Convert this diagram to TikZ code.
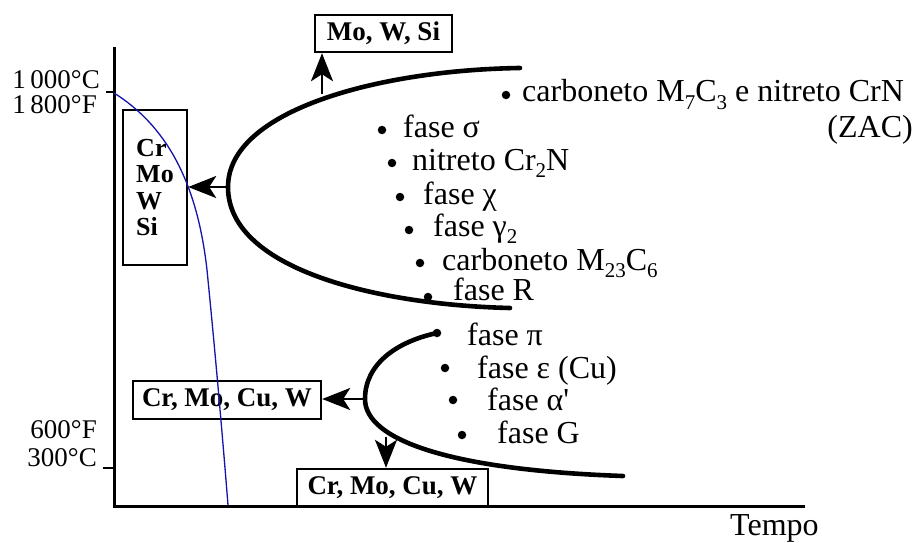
\documentclass[tikz,border=0pt]{standalone}
\usepackage{fontspec}
\setmainfont{Liberation Serif}
\usetikzlibrary{arrows.meta}
\definecolor{curveblue}{RGB}{20,20,170}
\newcommand\sbs[1]{\raisebox{-0.22em}{\fontsize{21}{21}\selectfont #1}}
\begin{document}
\begin{tikzpicture}[x=1pt,y=-1pt,
  lbl/.style={font=\fontsize{32}{36}\selectfont, inner sep=0pt, anchor=base west},
  axl/.style={font=\fontsize{27}{30}\selectfont, inner sep=0pt, anchor=east},
  boxn/.style={draw, line width=2.4pt, font=\bfseries\fontsize{27}{30}\selectfont, inner sep=0pt},
  dotn/.style={circle, fill, inner sep=0pt, minimum size=8.5pt},
  curve/.style={line width=4.6pt, line cap=round},
  arr/.style={line width=2.6pt, -{Stealth[length=28pt,width=22pt,inset=7pt]}},
]
\useasboundingbox (0,0) rectangle (924,543);

% axes
\draw[line width=3pt] (114,47) -- (114,506) -- (805,506);
\draw[line width=2pt] (106,92) -- (114,92);
\draw[line width=2pt] (103,468) -- (114,468);
\node[axl] (c1000) at (100,80) {1\,000°C};
\node[axl] (f1800) at (97,105) {1\,800°F};
\node[axl] (f600) at (97,430) {600°F};
\node[axl] (c300) at (97,458) {300°C};
\node[lbl] (tempo) at (730,535) {Tempo};

% boxes
\node[boxn, minimum width=64pt, minimum height=155pt, align=left,
      font=\bfseries\fontsize{26}{26.5}\selectfont] (crbox) at (155,187.5) {Cr\\Mo\\W\\Si};
\node[boxn, minimum width=137pt, minimum height=37pt] (mws) at (383.5,33.5) {Mo, W, Si};
\node[boxn, minimum width=188pt, minimum height=38pt] (cb1) at (227,400) {Cr, Mo, Cu, W};
\node[boxn, minimum width=191pt, minimum height=37pt] (cb2) at (392.5,487.5) {Cr, Mo, Cu, W};

% C-curves
\draw[curve] (520,68) .. controls (380,70) and (228,110) .. (228,187)
             .. controls (228,270) and (380,305) .. (510,308);
\draw[curve] (437,333) .. controls (395,342) and (365,365) .. (365,399)
             .. controls (365,440) and (450,470) .. (623,476);

% arrows
\coordinate (v1) at (228,187);
\coordinate (t1) at (322,94);
\coordinate (v2) at (365,399);
\coordinate (b2) at (386,437);
\draw[arr] (v1) -- (v1 -| crbox.east);
\draw[arr] (t1) -- (t1 |- mws.south);
\draw[arr] (v2) -- (v2 -| cb1.east);
\draw[arr] (b2) -- (b2 |- cb2.north);

% dots
\node[dotn] (d0) at (506,95) {};
\node[dotn] (d1) at (382,130) {};
\node[dotn] (d2) at (392,163) {};
\node[dotn] (d3) at (400,197) {};
\node[dotn] (d4) at (409,230) {};
\node[dotn] (d5) at (420,263) {};
\node[dotn] (d6) at (428,297) {};
\node[dotn] (d7) at (437,333) {};
\node[dotn] (d8) at (445,368) {};
\node[dotn] (d9) at (453,400) {};
\node[dotn] (d10) at (462,435) {};

% labels
\node[lbl] (l0) at (522,102) {carboneto M\sbs{7}C\sbs{3} e nitreto CrN};
\node[lbl, anchor=base east] (l0b) at (913,137) {(ZAC)};
\node[lbl] (l1) at (403,137) {fase σ};
\node[lbl] (l2) at (412,170) {nitreto Cr\sbs{2}N};
\node[lbl] (l3) at (423,204) {fase χ};
\node[lbl] (l4) at (433,236) {fase γ\sbs{2}};
\node[lbl] (l5) at (442,270) {carboneto M\sbs{23}C\sbs{6}};
\node[lbl] (l6) at (453,300) {fase R};
\node[lbl] (l7) at (467,345) {fase π};
\node[lbl] (l8) at (477,378) {fase ε (Cu)};
\node[lbl] (l9) at (487,410) {fase α\textquotesingle};
\node[lbl] (l10) at (497,443) {fase G};

% cooling curve
\draw[curveblue, line width=1.3pt] (114,93) .. controls (165,125) and (197,180) .. (207,270)
      .. controls (215,350) and (222,430) .. (228,505);
\end{tikzpicture}
\end{document}
